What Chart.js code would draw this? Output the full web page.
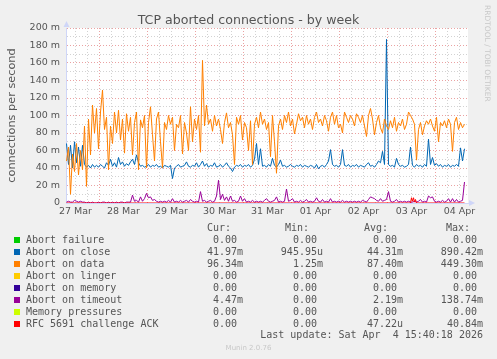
<!DOCTYPE html>
<html>
<head>
<meta charset="utf-8">
<script src="https://cdn.jsdelivr.net/npm/chart.js@4.4.1/dist/chart.umd.min.js"></script>
<style>
  html, body { margin: 0; padding: 0; background: #f0f0f0; }
  #wrap { position: relative; width: 497px; height: 359px; overflow: hidden; font-family: 'DejaVu Sans', sans-serif; color: #555; }
  #chart { position: absolute; left: 0; top: 0; }
  .abs { position: absolute; white-space: pre; }
  #title { left: 0; width: 497px; top: 12px; text-align: center; font-size: 12.6px; line-height: 15px; }
  #rrd { left: 483px; top: 5px; writing-mode: vertical-rl; font-size: 7.5px; line-height: 9px; color: #c8c8c8; }
  #munin { left: 0; width: 497px; top: 343px; text-align: center; font-size: 7px; line-height: 10px; color: #c8c8c8; }
  .mono { font-family: 'DejaVu Sans Mono', monospace; font-size: 10px; line-height: 12px; }
  .sw { position: absolute; left: 14px; width: 6px; height: 6px; }
</style>
</head>
<body>
<div id="wrap">
  <canvas id="chart" width="497" height="359"></canvas>
  <div id="title" class="abs">TCP aborted connections - by week</div>
  <div id="rrd" class="abs">RRDTOOL / TOBI OETIKER</div>
  <div id="munin" class="abs">Munin 2.0.76</div>
  <div id="legend"></div>
</div>
<script>
// time axis: hours since 27 Mar 00:00, one sample per hour
const sampleStartHour = 7.5;
const sampleStepHours = 1;
const dayLabels = ['27 Mar', '28 Mar', '29 Mar', '30 Mar', '31 Mar', '01 Apr', '02 Apr', '03 Apr', '04 Apr'];

// values in milli-connections per second
const abortOnData = [
  48, 64, 10, 56, 36, 68, 32, 60, 38, 88,
  19, 96, 55, 112, 80, 108, 62, 104, 129, 84,
  98, 38, 88, 68, 104, 80, 106, 72, 96, 57,
  102, 82, 98, 55, 92, 104, 38, 95, 86, 100,
  40, 92, 110, 78, 48, 96, 104, 70, 40, 92,
  84, 100, 90, 98, 60, 90, 86, 100, 56, 92,
  80, 60, 110, 70, 96, 84, 100, 58, 163, 88,
  112, 90, 96, 82, 100, 88, 96, 84, 68, 92,
  103, 86, 92, 78, 44, 98, 90, 100, 72, 92,
  86, 60, 94, 44, 90, 98, 86, 104, 90, 96,
  84, 92, 53, 100, 70, 34, 88, 96, 84, 100,
  92, 104, 88, 96, 79, 90, 102, 94, 98, 86,
  100, 90, 96, 84, 98, 104, 92, 96, 88, 100,
  94, 82, 98, 104, 90, 100, 86, 90, 80, 104,
  98, 92, 100, 96, 88, 102, 98, 92, 100, 88,
  76, 100, 108, 96, 78, 92, 100, 86, 80, 96,
  88, 84, 94, 86, 98, 82, 92, 88, 96, 84,
  90, 104, 100, 96, 90, 49, 84, 92, 78, 88,
  94, 90, 96, 88, 82, 98, 70, 92, 88, 94,
  86, 96, 90, 59, 92, 98, 84, 92, 86, 90
];
const abortOnClose = [
  68, 44, 66, 40, 70, 46, 64, 42, 66, 44,
  41, 43, 40, 44, 41, 43, 41, 44, 42, 40,
  46, 43, 50, 42, 46, 41, 52, 44, 47, 42,
  45, 43, 47, 50, 44, 55, 46, 42, 43, 41,
  42, 44, 41, 43, 42, 44, 41, 42, 40, 43,
  42, 41, 43, 28, 40, 42, 44, 41, 42, 43,
  47, 42, 41, 43, 42, 46, 41, 44, 48, 42,
  45, 41, 43, 42, 46, 41, 42, 44, 41, 43,
  46, 42, 40, 36, 41, 43, 42, 44, 41, 43,
  42, 44, 41, 43, 50, 68, 44, 62, 42, 43,
  41, 44, 42, 51, 43, 41, 44, 49, 42, 43,
  41, 42, 44, 42, 41, 43, 42, 44, 41, 43,
  42, 41, 43, 42, 40, 44, 39, 42, 43, 41,
  44, 48, 61, 44, 42, 43, 41, 44, 61, 43,
  42, 44, 41, 43, 42, 44, 41, 43, 42, 41,
  44, 46, 42, 43, 41, 44, 48, 46, 59, 44,
  187, 44, 42, 43, 41, 51, 44, 42, 43, 41,
  42, 44, 64, 43, 41, 44, 42, 43, 41, 44,
  42, 73, 44, 52, 43, 45, 42, 44, 41, 43,
  42, 44, 41, 43, 42, 44, 42, 63, 48, 62
];
const abortOnTimeout = [
  1, 2, 1, 1, 3, 2, 1, 2, 1, 1,
  0, 1, 0, 1, 0, 0, 1, 0, 1, 1,
  0, 1, 0, 1, 0, 1, 0, 1, 1, 0,
  1, 1, 1, 9, 2, 3, 1, 7, 2, 5,
  11, 6, 7, 3, 4, 2, 1, 2, 1, 2,
  1, 3, 1, 5, 1, 2, 1, 3, 1, 2,
  3, 1, 4, 2, 1, 2, 1, 13, 2, 3,
  1, 2, 3, 1, 2, 8, 26, 4, 10, 3,
  7, 2, 8, 2, 3, 1, 2, 8, 2, 5,
  1, 2, 1, 3, 1, 2, 1, 2, 1, 3,
  5, 2, 1, 2, 3, 7, 1, 2, 1, 2,
  16, 2, 3, 5, 1, 2, 1, 3, 1, 2,
  4, 1, 2, 1, 2, 6, 2, 1, 4, 1,
  2, 1, 5, 1, 2, 1, 2, 1, 3, 1,
  2, 1, 2, 1, 2, 1, 2, 1, 3, 2,
  1, 4, 7, 6, 5, 3, 2, 5, 2, 3,
  4, 13, 2, 1, 2, 4, 1, 2, 1, 2,
  1, 2, 1, 1, 2, 1, 2, 4, 1, 2,
  1, 8, 6, 7, 2, 1, 2, 1, 3, 1,
  2, 5, 1, 5, 1, 4, 1, 2, 3, 24
];
const rfcChallengeHours = [7.5, 179.5, 180, 180.5, 181, 181.5, 182, 182.5, 206.5];
const rfcChallengeAck = [0, 0, 6, 2, 6, 1, 4, 0, 0];

// legend table
const legendNames = ['Abort failure', 'Abort on close', 'Abort on data', 'Abort on linger',
  'Abort on memory', 'Abort on timeout', 'Memory pressures', 'RFC 5691 challenge ACK'];
const legendColors = ['#00cc00', '#0066b3', '#ff8000', '#ffcc00', '#330099', '#990099', '#ccff00', '#ff0000'];
const curValues = ['0.00 ', '41.97m', '96.34m', '0.00 ', '0.00 ', '4.47m', '0.00 ', '0.00 '];
const minValues = ['0.00 ', '945.95u', '1.25m', '0.00 ', '0.00 ', '0.00 ', '0.00 ', '0.00 '];
const avgValues = ['0.00 ', '44.31m', '87.40m', '0.00 ', '0.00 ', '2.19m', '0.00 ', '47.22u'];
const maxValues = ['0.00 ', '890.42m', '449.30m', '0.00 ', '0.00 ', '138.74m', '0.00 ', '40.84m'];
const lastUpdate = 'Last update: Sat Apr  4 15:40:18 2026';

function toPoints(values) {
  return values.map((v, i) => ({ x: sampleStartHour + i * sampleStepHours, y: v }));
}

// build legend
const legend = document.getElementById('legend');
function addText(text, rightEdge, top) {
  const d = document.createElement('div');
  d.className = 'abs mono';
  d.style.left = (rightEdge - 300) + 'px';
  d.style.width = '300px';
  d.style.textAlign = 'right';
  d.style.top = top + 'px';
  d.textContent = text;
  legend.appendChild(d);
}
const headerTop = 221.5;
addText('Cur:', 231, headerTop);
addText('Min:', 309, headerTop);
addText('Avg:', 388, headerTop);
addText('Max:', 470, headerTop);
legendNames.forEach((name, i) => {
  const top = 233.5 + i * 12;
  const sw = document.createElement('div');
  sw.className = 'sw';
  sw.style.top = (top + 3) + 'px';
  sw.style.background = legendColors[i];
  legend.appendChild(sw);
  const lab = document.createElement('div');
  lab.className = 'abs mono';
  lab.style.left = '26px';
  lab.style.top = top + 'px';
  lab.textContent = name;
  legend.appendChild(lab);
  addText(curValues[i], 243, top);
  addText(minValues[i], 323, top);
  addText(avgValues[i], 403, top);
  addText(maxValues[i], 483, top);
});
addText(lastUpdate, 483, 328.5);

const majorGrid = '#eaa2a2';
const minorGrid = '#d2d2d2';
const axisColor = '#cfd6f8';

const plotBackground = {
  id: 'plotBackground',
  beforeDraw(chart) {
    const { ctx, chartArea: a } = chart;
    ctx.save();
    ctx.fillStyle = '#ffffff';
    ctx.fillRect(a.left, a.top, a.right - a.left, a.bottom - a.top);
    ctx.restore();
  }
};

const axisArrows = {
  id: 'axisArrows',
  afterDraw(chart) {
    const { ctx, chartArea: a } = chart;
    ctx.save();
    ctx.fillStyle = axisColor;
    const lx = a.left + 0.5;
    ctx.beginPath();
    ctx.moveTo(lx, a.top - 7);
    ctx.lineTo(lx - 3, a.top - 1);
    ctx.lineTo(lx + 3, a.top - 1);
    ctx.closePath();
    ctx.fill();
    const by = a.bottom;
    ctx.beginPath();
    ctx.moveTo(a.right + 7, by);
    ctx.lineTo(a.right + 1, by - 3);
    ctx.lineTo(a.right + 1, by + 3);
    ctx.closePath();
    ctx.fill();
    ctx.restore();
  }
};

const ctx = document.getElementById('chart').getContext('2d');
new Chart(ctx, {
  type: 'line',
  data: {
    datasets: [
      { label: 'Abort on close', data: toPoints(abortOnClose), borderColor: '#0066b3', order: 3 },
      { label: 'Abort on data', data: toPoints(abortOnData), borderColor: '#ff8000', order: 2 },
      { label: 'Abort on timeout', data: toPoints(abortOnTimeout), borderColor: '#990099', order: 1 },
      { label: 'RFC 5691 challenge ACK',
        data: rfcChallengeHours.map((h, i) => ({ x: h, y: rfcChallengeAck[i] })),
        borderColor: '#ff0000', order: 0 }
    ]
  },
  options: {
    responsive: false,
    animation: false,
    layout: { padding: { left: 0, right: 29, top: 28, bottom: 136 } },
    plugins: {
      legend: { display: false },
      tooltip: { enabled: false },
      title: { display: false }
    },
    elements: {
      point: { radius: 0 },
      line: { borderWidth: 1, tension: 0, fill: false }
    },
    scales: {
      x: {
        type: 'linear',
        min: 7.25,
        max: 208.25,
        afterFit(scale) { scale.height = 20; },
        afterBuildTicks(scale) {
          const ticks = [];
          for (let h = 12; h <= 204; h += 6) ticks.push({ value: h });
          scale.ticks = ticks;
        },
        ticks: {
          autoSkip: false,
          maxRotation: 0,
          minRotation: 0,
          padding: 3,
          color: '#555',
          font: { family: 'DejaVu Sans', size: 9.5 },
          callback: v => (v % 24 === 12 ? dayLabels[(v - 12) / 24] : '')
        },
        grid: {
          drawTicks: false,
          lineWidth: 1,
          color: c => (c.tick && c.tick.value % 24 === 0 ? majorGrid : minorGrid)
        },
        border: { display: true, color: axisColor, dash: [1, 2] }
      },
      y: {
        min: 0,
        max: 200,
        afterFit(scale) { scale.width = 66; },
        afterBuildTicks(scale) {
          const ticks = [];
          for (let v = 0; v <= 200; v += 10) ticks.push({ value: v });
          scale.ticks = ticks;
        },
        ticks: {
          autoSkip: false,
          padding: 6,
          color: '#555',
          font: { family: 'DejaVu Sans', size: 9.5 },
          callback: v => (v % 20 === 0 ? (v === 0 ? '0' : v + ' m') : '')
        },
        title: {
          display: true,
          text: 'connections per second',
          color: '#555',
          font: { family: 'DejaVu Sans', size: 11.3 },
          padding: { top: 5, bottom: 0 }
        },
        grid: {
          drawTicks: false,
          lineWidth: 1,
          color: c => (c.tick && c.tick.value % 20 === 0 ? majorGrid : minorGrid)
        },
        border: { display: true, color: axisColor, dash: [1, 2] }
      }
    }
  },
  plugins: [plotBackground, axisArrows]
});
</script>
</body>
</html>
